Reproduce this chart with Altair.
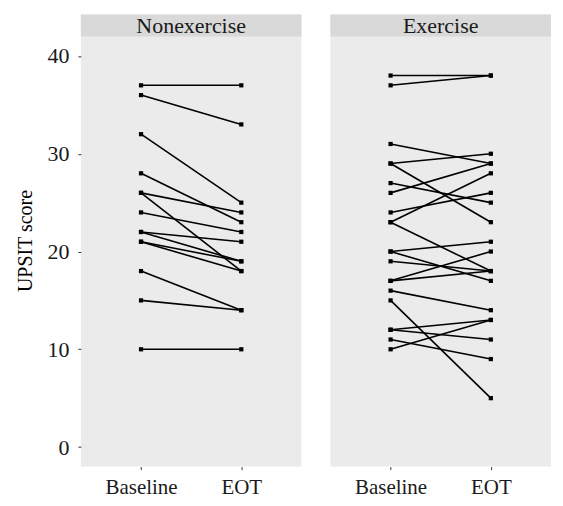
import altair as alt
import pandas as pd

# ---- data ----
groups = ["Nonexercise", "Exercise"]
times = ["Baseline", "EOT"]

nonex_baseline = [37, 36, 32, 28, 26, 26, 24, 22, 22, 21, 21, 18, 15, 10]
nonex_eot = [37, 33, 25, 23, 24, 18, 22, 21, 19, 19, 18, 14, 14, 10]

exer_baseline = [38, 37, 31, 29, 29, 27, 26, 24, 23, 23, 20, 20, 19, 17, 17, 16, 15, 12, 12, 11, 10]
exer_eot = [38, 38, 29, 30, 23, 25, 29, 26, 28, 18, 21, 17, 18, 20, 18, 14, 5, 13, 11, 9, 13]

y_ticks = [0, 10, 20, 30, 40]

rows = []
for g, base, eot in [(groups[0], nonex_baseline, nonex_eot), (groups[1], exer_baseline, exer_eot)]:
    for i, (b, e) in enumerate(zip(base, eot)):
        rows.append({"group": g, "id": f"{g}-{i}", "time": times[0], "score": b})
        rows.append({"group": g, "id": f"{g}-{i}", "time": times[1], "score": e})
df = pd.DataFrame(rows)

FONT = "Liberation Serif"
PW, PH = 221, 453
YDOM = [-2, 44.25]
STRIP_LO, STRIP_HI = 42, 44.25

yscale = alt.Scale(domain=YDOM, nice=False, zero=False)
xscale = alt.Scale(type="point", padding=0.6, domain=times)
one = pd.DataFrame({"k": [0]})


def panel(g, show_y):
    if show_y:
        yaxis = alt.Axis(
            values=y_ticks, title="UPSIT score", grid=False, domain=False,
            tickSize=3, tickColor="#333333", labelFontSize=22, labelColor="#1a1a1a",
            labelPadding=9, titleFontSize=20, titleFontWeight="normal",
            titleColor="#000000", titlePadding=11, labelFont=FONT, titleFont=FONT,
        )
    else:
        yaxis = None

    base = alt.Chart(df).transform_filter(alt.datum.group == g).encode(
        x=alt.X("time:N", scale=xscale, sort=times,
                axis=alt.Axis(title=None, labelAngle=0, domain=False, grid=False,
                              tickSize=3, tickColor="#333333", labelFontSize=21,
                              labelColor="#1a1a1a", labelPadding=7, labelFont=FONT)),
        y=alt.Y("score:Q", scale=yscale, axis=yaxis),
    )
    lines = base.mark_line(color="#000000", strokeWidth=1.6).encode(detail="id:N")
    pts = base.mark_square(color="#000000", size=18, opacity=1)

    strip = alt.Chart(one).mark_rect(color="#d9d9d9").encode(
        x=alt.value(0), x2=alt.value(PW),
        y=alt.datum(STRIP_LO), y2=alt.datum(STRIP_HI),
    )
    strip_text = alt.Chart(one).mark_text(
        font=FONT, fontSize=22, color="#1a1a1a", baseline="middle", align="center", dy=1
    ).encode(
        x=alt.value(PW / 2), y=alt.datum((STRIP_LO + STRIP_HI) / 2), text=alt.value(g)
    )
    return alt.layer(lines, pts, strip, strip_text).properties(width=PW, height=PH)


chart = alt.hconcat(panel(groups[0], True), panel(groups[1], False), spacing=29).properties(
    padding={"top": 6, "left": 8, "right": 4, "bottom": 2}
).configure(
    font=FONT
).configure_view(
    stroke=None, fill="#ebebeb"
).configure_axis(
    labelFont=FONT, titleFont=FONT
)

chart.save("out.html", embed_options={"renderer": "svg", "actions": False})
